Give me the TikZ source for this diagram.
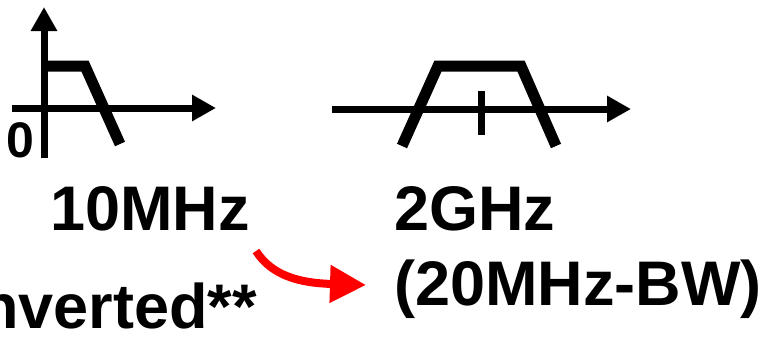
\documentclass[tikz,border=0pt]{standalone}
\usepackage{fontspec}
\setmainfont{Liberation Sans}
\usetikzlibrary{arrows.meta}
\begin{document}
\begin{tikzpicture}[x=1pt,y=-1pt,
  axis/.style={line width=7pt,-{Triangle[length=24pt,width=25pt]}},
  curve/.style={line width=11pt,line join=miter,line cap=butt},
  lbl/.style={inner sep=0pt,anchor=base west,font=\fontsize{63}{70}\selectfont\bfseries}]
\useasboundingbox (0,0) rectangle (770,341);
\clip (0,0) rectangle (770,341);
% left graph
\coordinate (v0) at (44,158);
\coordinate (v1) at (44,7);
\coordinate (h0) at (12,108);
\coordinate (h1) at (216,108);
\draw[axis] (v0) -- (v1);
\draw[axis] (h0) -- (h1);
\coordinate (l0) at (41,66);
\coordinate (l1) at (85,66);
\coordinate (l2) at (120,144);
\draw[curve] (l0) -- (l1) -- (l2);
\node[inner sep=0pt,anchor=base west,font=\fontsize{50}{56}\selectfont\bfseries] (zero) at (6,157) {0};
% right graph
\coordinate (r0) at (332,109);
\coordinate (r1) at (631,109);
\draw[axis] (r0) -- (r1);
\coordinate (t0) at (402,146);
\coordinate (t1) at (438,66);
\coordinate (t2) at (521,66);
\coordinate (t3) at (556,146);
\draw[curve] (t0) -- (t1) -- (t2) -- (t3);
\coordinate (k0) at (481,91);
\coordinate (k1) at (481,135);
\draw[line width=7pt] (k0) -- (k1);
% labels
\node[lbl] (f1) at (50,230) {10MHz};
\node[lbl] (f2) at (394,230) {2GHz};
\node[lbl] (f3) at (394,305) {(20MHz-BW)};
\node[inner sep=0pt,anchor=base east,font=\fontsize{63}{70}\selectfont\bfseries] (up) at (257,328) {nverted**};
% red arrow
\coordinate (a0) at (256,251);
\coordinate (a1) at (366,285);
\draw[red,line width=8pt,-{Triangle[length=36pt,width=36pt]}] (a0) .. controls (272,276) and (300,283) .. (a1);
\end{tikzpicture}
\end{document}
